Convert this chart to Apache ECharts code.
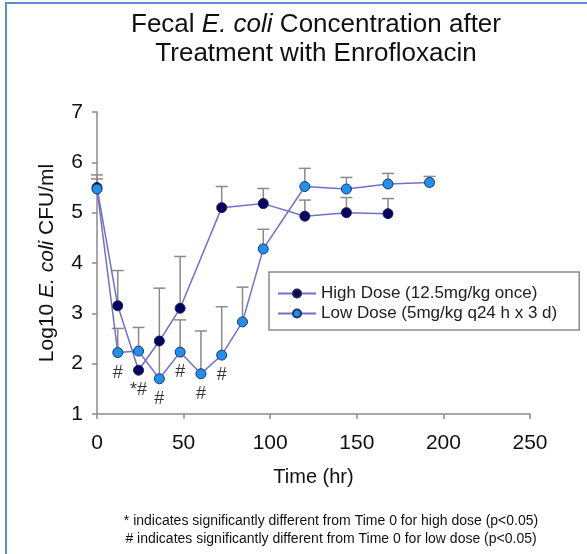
<!DOCTYPE html>
<html>
<head>
<meta charset="utf-8">
<script src="https://cdn.jsdelivr.net/npm/echarts@6/dist/echarts.min.js"></script>
<style>
  html, body { margin: 0; padding: 0; background: #fff; }
  #frame { position: absolute; left: 5px; top: 2px; width: 582px; height: 552px;
    border-top: 2px solid #5b8bd0; border-left: 2px solid #5b8bd0; box-sizing: border-box; }
  #chart { position: absolute; left: 0; top: 0; width: 587px; height: 554px; }
</style>
</head>
<body>
<div id="frame"></div>
<div id="chart"></div>
<script>
// time points (hr)
const highTime = [0, 12, 24, 36, 48, 72, 96, 120, 144, 168];
const highMean = [5.5, 3.15, 1.87, 2.45, 3.1, 5.1, 5.18, 4.93, 5.0, 4.98];
const highUpper = [5.75, 3.85, null, null, 4.13, 5.52, 5.48, 5.25, 5.3, 5.28];

const lowTime = [0, 12, 24, 36, 48, 60, 72, 84, 96, 120, 144, 168, 192];
const lowMean = [5.47, 2.22, 2.25, 1.7, 2.23, 1.8, 2.17, 2.83, 4.28, 5.52, 5.47, 5.57, 5.6];
const lowUpper = [5.67, 2.7, 2.72, 3.5, 2.87, 2.65, 3.13, 3.52, 4.67, 5.88, 5.7, 5.78, 5.72];

// significance marks, placed under the lower point at that time
const markTime = [12, 24, 36, 48, 60, 72];
const markText = ['#', '*#', '#', '#', '#', '#'];

const xTicks = [0, 50, 100, 150, 200, 250];
const yTicks = [1, 2, 3, 4, 5, 6, 7];

const font = 'Liberation Sans, Arial, sans-serif';
const lineColor = '#7070cc';

const pairs = (xs, ys) => xs.map((x, i) => [x, ys[i]]);
const errData = (xs, ys, up) => xs.map((x, i) => [x, ys[i], up[i]]).filter(d => d[2] != null);

const markData = markTime.map((t, i) => {
  const vals = [];
  const hi = highTime.indexOf(t);
  const lo = lowTime.indexOf(t);
  if (hi >= 0) vals.push(highMean[hi]);
  if (lo >= 0) vals.push(lowMean[lo]);
  return { value: [t, Math.min.apply(null, vals)], text: markText[i] };
});

function errorBar(params, api) {
  const p0 = api.coord([api.value(0), api.value(1)]);
  const p1 = api.coord([api.value(0), api.value(2)]);
  const style = { stroke: '#8a8a8a', lineWidth: 1.5 };
  return {
    type: 'group',
    children: [
      { type: 'line', shape: { x1: p0[0], y1: p0[1], x2: p1[0], y2: p1[1] }, style },
      { type: 'line', shape: { x1: p1[0] - 6, y1: p1[1], x2: p1[0] + 6, y2: p1[1] }, style }
    ]
  };
}

const chart = echarts.init(document.getElementById('chart'));
chart.setOption({
  animation: false,
  textStyle: { fontFamily: font },
  title: {
    text: 'Fecal {i|E. coli} Concentration after\nTreatment with Enrofloxacin',
    left: 311,
    top: 5,
    textAlign: 'center',
    textStyle: {
      fontSize: 26, fontWeight: 'normal', color: '#111', fontFamily: font, lineHeight: 29,
      rich: { i: { fontStyle: 'italic', fontSize: 26, color: '#111', fontFamily: font, lineHeight: 29 } }
    }
  },
  grid: { left: 97, right: 57, top: 112, bottom: 140 },
  legend: {
    left: 269, top: 272,
    orient: 'vertical',
    padding: [13, 22, 8, 8],
    itemGap: 3,
    itemWidth: 38, itemHeight: 10,
    borderColor: '#8a8a8a', borderWidth: 1.5,
    textStyle: { fontSize: 17, color: '#222', fontFamily: font },
    data: ['High Dose (12.5mg/kg once)', 'Low Dose (5mg/kg q24 h x 3 d)']
  },
  xAxis: {
    type: 'value', min: 0, max: 250, interval: 50,
    name: 'Time (hr)', nameLocation: 'middle', nameGap: 53,
    nameTextStyle: { fontSize: 20, color: '#111', fontFamily: font },
    axisLine: { lineStyle: { color: '#8a8a8a', width: 1.5 } },
    axisTick: { lineStyle: { color: '#8a8a8a', width: 1.5 }, length: 5 },
    axisLabel: { fontSize: 21, color: '#111', margin: 19,
      formatter: v => xTicks.includes(v) ? String(v) : '' },
    splitLine: { show: false }
  },
  yAxis: {
    type: 'value', min: 1, max: 7, interval: 1,
    name: 'Log10 {i|E. coli} CFU/ml', nameLocation: 'middle', nameGap: 39,
    nameTextStyle: { fontSize: 21, color: '#111', fontFamily: font,
      rich: { i: { fontStyle: 'italic', fontSize: 21, color: '#111', fontFamily: font } } },
    axisLine: { show: true, lineStyle: { color: '#8a8a8a', width: 1.5 } },
    axisTick: { show: true, lineStyle: { color: '#8a8a8a', width: 1.5 }, length: 5 },
    axisLabel: { fontSize: 21, color: '#111', margin: 14,
      formatter: v => yTicks.includes(v) ? String(v) : '' },
    splitLine: { show: false }
  },
  series: [
    {
      type: 'custom', name: 'highErr', renderItem: errorBar,
      data: errData(highTime, highMean, highUpper), z: 1, silent: true
    },
    {
      type: 'custom', name: 'lowErr', renderItem: errorBar,
      data: errData(lowTime, lowMean, lowUpper), z: 1, silent: true
    },
    {
      name: 'High Dose (12.5mg/kg once)', type: 'line',
      data: pairs(highTime, highMean),
      symbol: 'circle', symbolSize: 10,
      lineStyle: { color: lineColor, width: 1.5 },
      itemStyle: { color: '#000066', borderColor: '#222244', borderWidth: 1 },
      z: 3
    },
    {
      name: 'Low Dose (5mg/kg q24 h x 3 d)', type: 'line',
      data: pairs(lowTime, lowMean),
      symbol: 'circle', symbolSize: 10,
      lineStyle: { color: lineColor, width: 1.5 },
      itemStyle: { color: '#1e90f0', borderColor: '#223366', borderWidth: 1 },
      z: 3
    },
    {
      type: 'scatter', name: 'marks', symbolSize: 0, silent: true,
      data: markData,
      label: {
        show: true, position: 'bottom', distance: 11,
        formatter: p => p.data.text,
        fontSize: 18, color: '#000', fontFamily: font
      }
    }
  ],
  graphic: [
    {
      type: 'text', x: 331, y: 512,
      style: {
        text: '* indicates significantly different from Time 0 for high dose (p<0.05)\n# indicates significantly different from Time 0 for low dose (p<0.05)',
        font: '14px ' + font, fill: '#111', align: 'center', textAlign: 'center', lineHeight: 18
      }
    }
  ]
});
</script>
</body>
</html>
